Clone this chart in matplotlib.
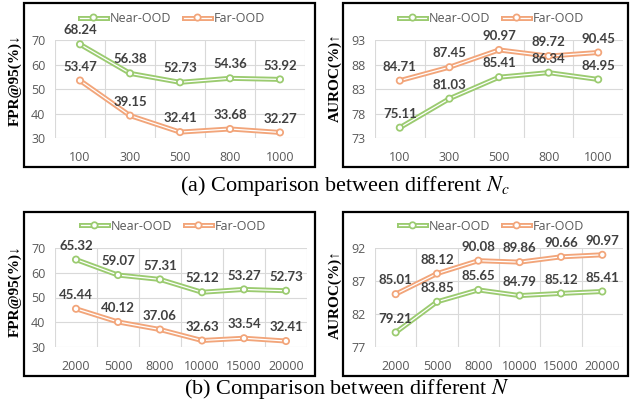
import matplotlib
matplotlib.use("Agg")
import matplotlib.pyplot as plt
import matplotlib.patheffects as pe
from matplotlib.patches import Rectangle

# panel (a): different N_c
nc_labels = ["100", "300", "500", "800", "1000"]
nc_fpr_near = [68.24, 56.38, 52.73, 54.36, 53.92]
nc_fpr_far = [53.47, 39.15, 32.41, 33.68, 32.27]
nc_auroc_near = [75.11, 81.03, 85.41, 86.34, 84.95]
nc_auroc_far = [84.71, 87.45, 90.97, 89.72, 90.45]

# panel (b): different N
n_labels = ["2000", "5000", "8000", "10000", "15000", "20000"]
n_fpr_near = [65.32, 59.07, 57.31, 52.12, 53.27, 52.73]
n_fpr_far = [45.44, 40.12, 37.06, 32.63, 33.54, 32.41]
n_auroc_near = [79.21, 83.85, 85.65, 84.79, 85.12, 85.41]
n_auroc_far = [85.01, 88.12, 90.08, 89.86, 90.66, 90.97]

GREEN = "#9BCB70"
ORANGE = "#F2A57A"
W, H = 630, 404

plt.rcParams["mathtext.fontset"] = "stix"
fig = plt.figure(figsize=(6.3, 4.04), dpi=100)


def px_axes(x0, y0, x1, y1):
    return fig.add_axes([x0 / W, 1 - y1 / H, (x1 - x0) / W, (y1 - y0) / H])


def box(x0, y0, x1, y1):
    fig.patches.append(Rectangle((x0 / W, 1 - y1 / H), (x1 - x0) / W, (y1 - y0) / H,
                                 transform=fig.transFigure, fill=False,
                                 edgecolor="black", linewidth=1.6))


def panel(ax, labels, near, far, yticks, ylabel, lab_y):
    xs = list(range(len(labels)))
    for vals, col, name in [(near, GREEN, "Near-OOD"), (far, ORANGE, "Far-OOD")]:
        ax.plot(xs, vals, color="white", lw=0.9, marker="o", ms=2.2,
                mfc="white", mec="white", label=name, zorder=3,
                path_effects=[pe.Stroke(linewidth=3.6, foreground=col), pe.Normal()])
        for x, v in zip(xs, vals):
            ax.annotate(f"{v:.2f}", (x, v), xytext=(0, 10), textcoords="offset points",
                        ha="center", va="center", fontsize=9.5, fontweight="bold",
                        color="#404040", family="Lato", zorder=4)
    ax.set_xlim(-0.5, len(labels) - 0.5)
    ax.set_ylim(yticks[0], yticks[-1])
    ax.set_yticks(yticks)
    ax.set_xticks(xs)
    ax.set_xticklabels(labels)
    ax.yaxis.grid(True, color="#D9D9D9", lw=0.8)
    for b in range(len(labels) + 1):
        ax.axvline(b - 0.5, color="#D9D9D9", lw=0.8, zorder=0)
    ax.set_axisbelow(True)
    for s in ax.spines.values():
        s.set_visible(False)
    ax.tick_params(length=0, labelsize=9, labelcolor="#595959", pad=7)
    ax.tick_params(axis="x", pad=9)
    for t in ax.get_xticklabels() + ax.get_yticklabels():
        t.set_family("Open Sans")
    ax.set_ylabel(ylabel, family=["Liberation Serif", "DejaVu Serif"],
                  fontweight="bold", fontsize=11, va="center", ha="center")
    ax.yaxis.set_label_coords(-40 / ax.bbox.width, lab_y)
    ax.legend(loc="center", bbox_to_anchor=(0.47, 1.22), ncol=2, frameon=False,
              prop={"family": "Open Sans", "size": 9}, labelcolor="#595959",
              handlelength=2.2, handletextpad=0.2, columnspacing=1.0)


ax1 = px_axes(55, 40, 305, 138)
panel(ax1, nc_labels, nc_fpr_near, nc_fpr_far, [30, 40, 50, 60, 70], "FPR@95(%)↓", 0.59)
ax2 = px_axes(375, 40, 623, 138)
panel(ax2, nc_labels, nc_auroc_near, nc_auroc_far, [73, 78, 83, 88, 93], "AUROC(%)↑", 0.62)
ax3 = px_axes(55, 248, 307, 347)
panel(ax3, n_labels, n_fpr_near, n_fpr_far, [30, 40, 50, 60, 70], "FPR@95(%)↓", 0.56)
ax4 = px_axes(375, 248, 623, 347)
panel(ax4, n_labels, n_auroc_near, n_auroc_far, [77, 82, 87, 92], "AUROC(%)↑", 0.53)

box(24, 3, 315, 167)
box(343, 3, 628, 167)
box(24, 212, 315, 376)
box(343, 212, 628, 376)

fig.text(345 / W, 1 - 186 / H, "(a) Comparison between different $N_c$",
         ha="center", va="center", fontsize=16, family="Liberation Serif")
fig.text(347 / W, 1 - 389 / H, "(b) Comparison between different $N$",
         ha="center", va="center", fontsize=16, family="Liberation Serif")

fig.savefig("out.png", dpi=100)
